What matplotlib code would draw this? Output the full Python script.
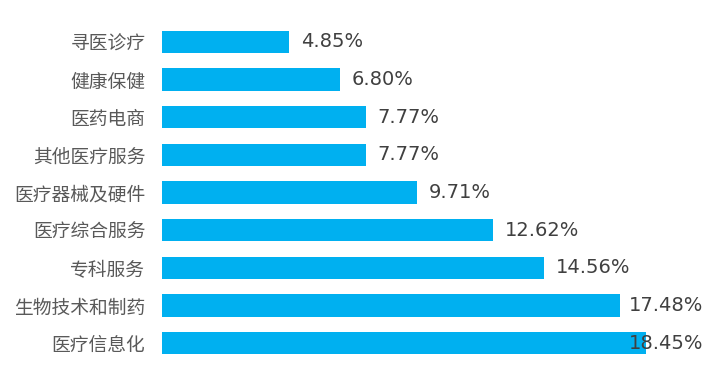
import matplotlib.pyplot as plt

plt.rcParams['font.family'] = ['Noto Sans CJK SC', 'DejaVu Sans']

# данные
categories = ['寻医诊疗', '健康保健', '医药电商', '其他医疗服务', '医疗器械及硬件',
              '医疗综合服务', '专科服务', '生物技术和制药', '医疗信息化']
values = [4.85, 6.80, 7.77, 7.77, 9.71, 12.62, 14.56, 17.48, 18.45]

W, H = 710, 386
fig = plt.figure(figsize=(W / 100, H / 100), dpi=100)
# оси в пикселях: слева 162, сверху 23, высота 9 полос по ~37.6 px
ax = fig.add_axes([162 / W, (H - 362) / H, 520 / W, 339 / H])

y = list(range(len(categories)))
ax.barh(y, values, height=0.585, color='#00B0F0')
ax.set_ylim(len(categories) - 0.5, -0.5)
ax.set_xlim(0, 520 / 26.22)

# подписи значений; последняя прижата к правому краю
for i, v in enumerate(values):
    ax.text(min(v + 0.45, 17.8), i, '%.2f%%' % v, va='center', ha='left',
            fontsize=14, color='#404040', family='DejaVu Sans')

ax.set_yticks(y)
ax.set_yticklabels(categories, fontsize=13.5, color='#595959')
ax.tick_params(axis='y', length=0, pad=12)
ax.set_xticks([])
for s in ax.spines.values():
    s.set_visible(False)

fig.savefig('out.png', dpi=100)
